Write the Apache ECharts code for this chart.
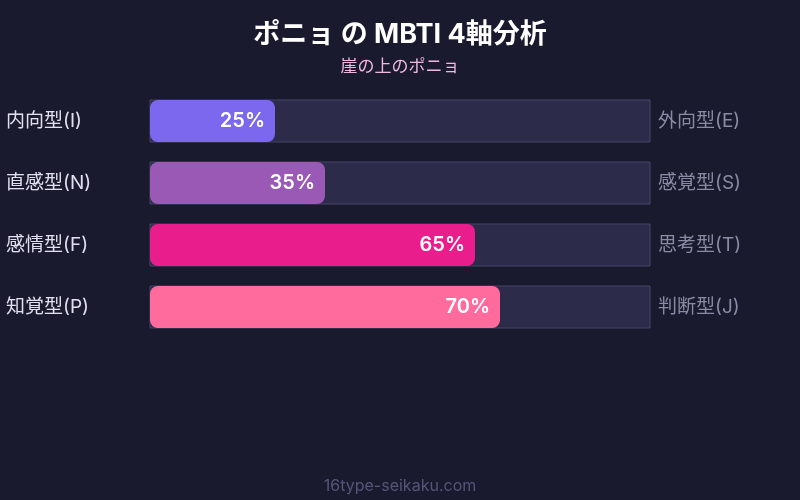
<!DOCTYPE html>
<html>
<head>
<meta charset="utf-8">
<script src="https://cdn.jsdelivr.net/npm/echarts@6/dist/echarts.min.js"></script>
<style>
html,body{margin:0;padding:0;background:#1a1a2e;}
#c{width:800px;height:500px;}
</style>
</head>
<body>
<div id="c"></div>
<script>
const leftLabels = ['内向型(I)', '直感型(N)', '感情型(F)', '知覚型(P)'];
const rightLabels = ['外向型(E)', '感覚型(S)', '思考型(T)', '判断型(J)'];
const values = [25, 35, 65, 70];
const barColors = ['#7b68ee', '#9b59b6', '#e91e8c', '#ff6b9d'];
const titleText = 'ポニョ の MBTI 4軸分析';
const subtitleText = '崖の上のポニョ';
const footerText = '16type-seikaku.com';

const font = 'Inter, "Noto Sans CJK JP", sans-serif';
const chart = echarts.init(document.getElementById('c'), null, {renderer: 'canvas'});
chart.setOption({
  backgroundColor: '#1a1a2e',
  animation: false,
  title: [
    {text: titleText, left: 'center', top: 16,
     textStyle: {color: '#ffffff', fontSize: 27, fontWeight: 'bold', fontFamily: font}},
    {text: subtitleText, left: 'center', top: 53,
     textStyle: {color: '#f0b8e0', fontSize: 17, fontWeight: 'normal', fontFamily: font}},
    {text: footerText, left: 'center', top: 473,
     textStyle: {color: '#55557a', fontSize: 16, fontWeight: 'normal', fontFamily: font}}
  ],
  grid: {left: 150, right: 150, top: 90, height: 248, containLabel: false},
  xAxis: {type: 'value', min: 0, max: 100, show: false},
  yAxis: [
    {type: 'category', data: leftLabels, inverse: true, position: 'left',
     axisLine: {show: false}, axisTick: {show: false},
     axisLabel: {color: '#e0e0f0', fontSize: 19, fontFamily: font, align: 'left', margin: 144,
                 verticalAlign: 'middle', padding: [0, 0, 4, 0]}},
    {type: 'category', data: rightLabels, inverse: true, position: 'right',
     axisLine: {show: false}, axisTick: {show: false},
     axisLabel: {color: '#8a8aa4', fontSize: 19, fontFamily: font, margin: 8,
                 verticalAlign: 'middle', padding: [0, 0, 4, 0]}}
  ],
  series: [{
    type: 'bar',
    yAxisIndex: 0,
    barWidth: 42,
    data: values.map((v, i) => ({value: v, itemStyle: {color: barColors[i]}})),
    itemStyle: {borderRadius: 8},
    showBackground: true,
    backgroundStyle: {color: '#2d2b4a', borderColor: '#44446a', borderWidth: 1},
    label: {show: true, position: 'insideRight', distance: 10, formatter: '{c}%',
            color: '#ffffff', fontSize: 20, fontWeight: 600, fontFamily: font}
  }]
});
</script>
</body>
</html>
